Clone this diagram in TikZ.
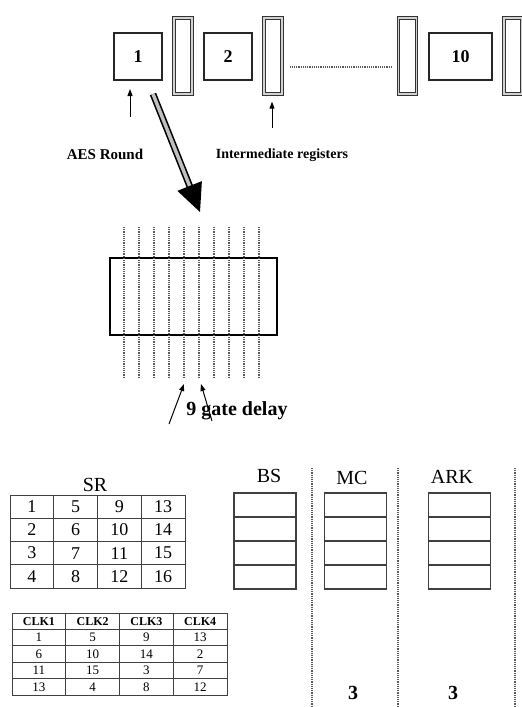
\documentclass[tikz,border=0pt]{standalone}
\usepackage{fontspec}
\setmainfont{Liberation Serif}
\usetikzlibrary{positioning, arrows.meta, calc}

\begin{document}
\begin{tikzpicture}[
    x=1pt, y=-1pt,
    roundbox/.style={
        draw=black!85,
        line width=2pt,
        font=\fontsize{18}{20}\selectfont\bfseries,
        minimum width=#1,
        minimum height=47pt,
        inner sep=0pt,
    },
    regbox/.style={
        draw=black!80,
        line width=1.3pt,
        double=gray!35,
        double distance=1.2pt,
        minimum width=18pt,
        minimum height=76pt,
        inner sep=0pt,
    },
    lbl/.style={font=\fontsize{#1}{#1}\selectfont\bfseries, inner sep=0pt},
    uparr/.style={-{Triangle[length=7pt, width=5pt]}, line width=1pt},
    bigarr/.style={
        -{Triangle[length=28pt, width=26pt]},
        draw=black, line width=1.6pt,
        double=gray!50, double distance=3.5pt,
    },
    gline/.style={dash pattern=on 1.2pt off 1pt, line width=1.3pt, black!65},
    cell/.style={
        draw=black!75, line width=0.8pt,
        font=\fontsize{#1}{#1}\selectfont,
        inner sep=0pt,
    },
]
\useasboundingbox (0,0) rectangle (522,707);

% Rounds and intermediate registers
\node[roundbox=48pt] (rnd1) at (138,56.5) {1};
\node[regbox] (reg1) at (183,56) {};
\node[roundbox=48pt] (rnd2) at (228,56.5) {2};
\node[regbox] (reg2) at (273,56) {};
\node[regbox] (reg9) at (407.5,56) {};
\node[roundbox=63pt] (rnd10) at (460.5,56.5) {10};
\node[regbox] (reg10) at (513,56) {};

\draw[gline, shorten <=7pt, shorten >=5pt] ([yshift=-11pt]reg2.east) -- ([yshift=-11pt]reg9.west);

% Labels under the round row
\node[lbl=15] (aes) at (105,154) {AES Round};
\node[lbl=14] (inter) at (282,155) {Intermediate registers};
\coordinate (aesarr) at (130,117);
\coordinate (regarr) at (272,128);
\draw[uparr] (aesarr) -- ([xshift=-8pt, yshift=-8pt]rnd1.south);
\draw[uparr] (regarr) -- ([xshift=-1pt, yshift=-7pt]reg2.south);

% One round unrolled
\node[draw, line width=2pt, minimum width=167pt, minimum height=77pt] (gates) at (193.5,296.5) {};
\foreach \i in {0,...,9}
    \draw[gline] (124+15*\i, 227) -- (124+15*\i, 377);

\coordinate (bigend) at (200,212);
\draw[bigarr] ([xshift=15pt, yshift=-13pt]rnd1.south) -- (bigend);

% Gate delay
\node[lbl=20] (delay) at (237,411) {9 gate delay};
\coordinate (dtail1) at (169,424);
\coordinate (dtip1) at (184,384);
\coordinate (dtail2) at (212,421);
\coordinate (dtip2) at (201,384);
\draw[uparr] (dtail1) -- (dtip1);
\draw[uparr] (dtail2) -- (dtip2);

% SR state
\node[font=\fontsize{20}{20}\selectfont, inner sep=0pt] (srlbl) at (95,485) {SR};
\foreach \v [count=\i from 0] in {1,5,9,13,2,6,10,14,3,7,11,15,4,8,12,16} {
    \pgfmathtruncatemacro{\row}{\i/4}
    \pgfmathtruncatemacro{\col}{mod(\i,4)}
    \node[cell=18, minimum width=43.75pt, minimum height=23.25pt]
        (sr-\row-\col) at (31.9+43.75*\col, 506.6+23.25*\row) {\v};
}

% Clock schedule
\foreach \v [count=\i from 0] in {CLK1,CLK2,CLK3,CLK4} {
    \node[cell=12, font=\fontsize{12}{12}\selectfont\bfseries,
          minimum width=53.75pt, minimum height=16.4pt]
        (clk-0-\i) at (38.9+53.75*\i, 621.2) {\v};
}
\foreach \v [count=\i from 0] in {1,5,9,13,6,10,14,2,11,15,3,7,13,4,8,12} {
    \pgfmathtruncatemacro{\row}{\i/4+1}
    \pgfmathtruncatemacro{\col}{mod(\i,4)}
    \node[cell=13, minimum width=53.75pt, minimum height=16.4pt]
        (clk-\row-\col) at (38.9+53.75*\col, 621.2+16.4*\row) {\v};
}

% BS, MC, ARK columns
\foreach \name/\x in {bs/265, mc/355.5, ark/459.5} {
    \foreach \r in {0,...,3}
        \node[cell=12, line width=1.1pt, minimum width=62pt, minimum height=24pt]
            (\name-\r) at (\x, 505+24*\r) {};
}
\node[font=\fontsize{20}{20}\selectfont, inner sep=0pt] (bslbl) at (269,476) {BS};
\node[font=\fontsize{20}{20}\selectfont, inner sep=0pt] (mclbl) at (352,478) {MC};
\node[font=\fontsize{20}{20}\selectfont, inner sep=0pt] (arklbl) at (452,477) {ARK};

\foreach \x in {312, 398, 515}
    \draw[gline] (\x, 468) -- (\x, 707);

\node[lbl=20] (mcclk) at (353,693) {3};
\node[lbl=20] (arkclk) at (453,693) {3};

\end{tikzpicture}
\end{document}
